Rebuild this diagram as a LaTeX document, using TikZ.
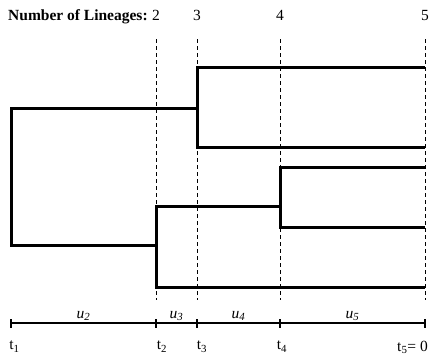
\documentclass[tikz,border=0pt]{standalone}
\usepackage{fontspec}
\setmainfont{Liberation Serif}
\begin{document}
\begin{tikzpicture}[x=1pt,y=-1pt,
branch/.style={black,line width=3pt,line join=miter},
guide/.style={black,line width=0.8pt,dash pattern=on 4pt off 3pt},
axis/.style={black,line width=2.4pt},
lab/.style={font=\fontsize{15.5}{17}\selectfont,inner sep=0pt}]

\useasboundingbox (0,0) rectangle (430,357);

% time points on the axis
\coordinate (t1) at (11,323);
\coordinate (t2) at (156,323);
\coordinate (t3) at (197,323);
\coordinate (t4) at (280,323);
\coordinate (t5) at (425,323);

% leaves and joins
\coordinate (l1) at (425,67);
\coordinate (l2) at (425,147);
\coordinate (l3) at (425,167);
\coordinate (l4) at (425,227);
\coordinate (l5) at (425,287);
\coordinate (n3) at (197,108);
\coordinate (n2) at (156,245);
\coordinate (n4) at (280,206);

\draw[branch] (l1) -| (t3|-l2) -- (l2);
\draw[branch] (l3) -| (t4|-l4) -- (l4);
\draw[branch] (n4) -| (t2|-l5) -- (l5);
\draw[branch] (n3) -| (t1|-n2) -- (n2);

% lineage counts
\node[lab,anchor=base west,font=\fontsize{15.5}{17}\selectfont\bfseries] (head) at (8,20) {Number of Lineages:};
\foreach \t/\n in {t2/2,t3/3,t4/4,t5/5}{
  \node[lab,anchor=base] (c\n) at (\t|-0,20) {\n};
  \draw[guide] ([yshift=-19pt]c\n.south) -- ([yshift=23pt]\t);
}

% time axis
\draw[axis] (t1) -- (t5);
\foreach \t in {t1,t2,t3,t4,t5}
  \draw[axis,line width=1.8pt] ([yshift=-4.5pt]\t) -- ([yshift=4.5pt]\t);

\path (t1) -- (t2) node[lab,midway,above=2pt] (u2) {\textit{u\textsubscript{2}}};
\path (t2) -- (t3) node[lab,midway,above=2pt] (u3) {\textit{u\textsubscript{3}}};
\path (t3) -- (t4) node[lab,midway,above=2pt] (u4) {\textit{u\textsubscript{4}}};
\path (t4) -- (t5) node[lab,midway,above=2pt] (u5) {\textit{u\textsubscript{5}}};

\foreach \t/\s/\dx in {t1/1/3.5,t2/2/6,t3/3/5,t4/4/2}
  \node[lab,anchor=north,xshift=\dx pt] (lab\t) at ([yshift=-18pt]\t) {t\textsubscript{\s}};
\node[lab,anchor=north east,xshift=3pt] (labt5) at ([yshift=-18pt]t5) {t\textsubscript{5}= 0};

\end{tikzpicture}
\end{document}
